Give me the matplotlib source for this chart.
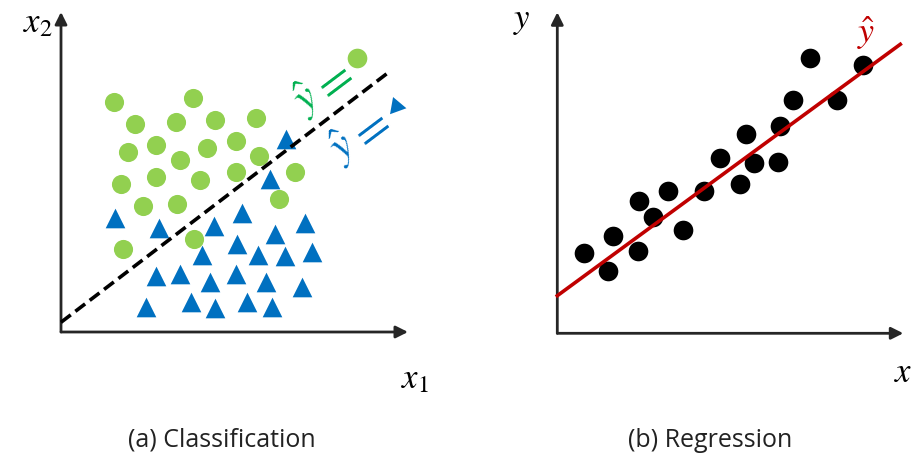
"""
Classification vs. regression sketch: two hand-drawn style panels.
"""

import matplotlib
matplotlib.use("Agg")
import matplotlib.pyplot as plt

plt.rcParams["mathtext.fontset"] = "stix"

# ── colours ──────────────────────────────────────────────────────────────────
C = {
    "green":     "#92d050",
    "green_txt": "#00b050",
    "blue":      "#0070c0",
    "red":       "#c00000",
    "axis":      "#262626",
    "text":      "#222222",
}

# ── data: (a) classification ─────────────────────────────────────────────────
green_x = [5.3, 13.2, 7.4, 11.5, 15.4, 19.5, 6.7, 9.5, 14.6, 17.5, 11.9,
           19.8, 6.0, 9.5, 13.9, 17.5, 23.4, 8.2, 11.6, 21.8, 6.2, 13.3]
green_y = [23.0, 23.4, 20.8, 21.0, 21.2, 21.4, 18.0, 18.7, 18.4, 19.1, 17.2,
           17.6, 14.8, 15.5, 15.2, 16.0, 16.0, 12.6, 12.8, 13.3, 8.3, 9.3]

blue_x = [22.5, 20.9, 5.4, 9.8, 15.3, 18.1, 24.4, 21.4, 17.6, 14.1, 19.7, 22.4,
          25.1, 9.5, 11.9, 14.9, 17.5, 20.5, 24.1, 8.5, 13.0, 15.4, 18.6, 21.1]
blue_y = [19.3, 15.3, 11.4, 10.4, 10.6, 11.9, 10.9, 9.8, 8.8, 7.7, 7.7, 7.6,
          8.0, 5.6, 5.8, 5.0, 5.8, 5.0, 4.5, 2.5, 3.0, 2.4, 3.0, 2.5]

boundary_x = [0.0, 32.8]
boundary_y = [0.97, 26.0]

# ── data: (b) regression ─────────────────────────────────────────────────────
reg_x = [2.7, 5.1, 5.6, 8.1, 8.2, 9.6, 11.1, 12.6, 14.7, 16.3, 18.3, 18.9,
         19.7, 22.1, 22.3, 23.6, 25.3, 28.0, 30.6]
reg_y = [8.0, 6.2, 9.7, 8.2, 13.2, 11.6, 14.2, 10.3, 14.2, 17.5, 14.9, 19.9,
         17.0, 17.1, 20.7, 23.3, 27.5, 23.3, 26.8]

fit_x = [0.0, 34.3]
fit_y = [3.76, 28.9]

W, H = 914, 460


def panel(fig, ox, oy, left_px, right_px):
    """Axes where 1 data unit = 10 px and (0, 0) sits at pixel (ox, oy)."""
    ax = fig.add_axes([left_px / W, 0, (right_px - left_px) / W, 1])
    ax.set_xlim((left_px - ox) / 10, (right_px - ox) / 10)
    ax.set_ylim((oy - H) / 10, oy / 10)
    ax.axis("off")
    return ax


def axes_arrows(ax, xend, yend):
    for xy in [(xend, 0), (0, yend)]:
        ax.annotate("", xy=xy, xytext=(0, 0),
                    arrowprops=dict(arrowstyle="-|>", color=C["axis"], lw=2,
                                    mutation_scale=18, shrinkA=0, shrinkB=0))


def rotated(ax, x, y, s, color, size=30):
    ax.text(x, y, s, color=color, fontsize=size, rotation=37,
            ha="center", va="center")


fig = plt.figure(figsize=(W / 100, H / 100), dpi=100)
fig.patch.set_facecolor("white")

# ══════════════════════════════════════════════════════════════════════════════
#  (a) Classification
# ══════════════════════════════════════════════════════════════════════════════
ax = panel(fig, 61, 333, 0, 457)
axes_arrows(ax, 34.7, 32.0)

ax.scatter(green_x, green_y, s=190, color=C["green"], linewidths=0, zorder=3)
ax.scatter(blue_x, blue_y, s=200, marker="^", color=C["blue"],
           linewidths=0, zorder=3)
ax.plot(boundary_x, boundary_y, color="black", lw=2.6,
        dashes=(3.4, 1.6), zorder=4)

# legend-ish labels along the boundary
rotated(ax, 24.5, 23.3, r"$\hat{y}$", C["green_txt"])
rotated(ax, 27.0, 25.0, r"$=$", C["green_txt"], size=36)
ax.scatter([29.6], [27.4], s=200, color=C["green"], linewidths=0)
rotated(ax, 28.1, 18.5, r"$\hat{y}$", C["blue"])
rotated(ax, 30.7, 20.2, r"$=$", C["blue"], size=36)
ax.scatter([33.5], [22.6], s=210, marker=(3, 0, 20), color=C["blue"],
           linewidths=0)

ax.text(-2.3, 31.1, r"$x_2$", fontsize=25, color="black",
        ha="center", va="center")
ax.text(35.4, -4.5, r"$x_1$", fontsize=25, color="black",
        ha="center", va="center")
ax.text(16.1, -10.7, "(a) Classification", fontsize=18, color=C["text"],
        family="Open Sans", ha="center", va="center")

# ══════════════════════════════════════════════════════════════════════════════
#  (b) Regression
# ══════════════════════════════════════════════════════════════════════════════
ax = panel(fig, 557.3, 334.3, 457, 914)
axes_arrows(ax, 34.6, 32.1)

ax.plot(fit_x, fit_y, color=C["red"], lw=2.6, zorder=4)
ax.scatter(reg_x, reg_y, s=200, color="black", linewidths=0, zorder=3)

ax.text(30.9, 30.1, r"$\hat{y}$", fontsize=26, color=C["red"],
        ha="center", va="center")
ax.text(-3.5, 31.4, r"$y$", fontsize=25, color="black",
        ha="center", va="center")
ax.text(34.6, -3.8, r"$x$", fontsize=25, color="black",
        ha="center", va="center")
ax.text(15.3, -10.6, "(b) Regression", fontsize=18, color=C["text"],
        family="Open Sans", ha="center", va="center")

fig.savefig("out.png", dpi=100, facecolor="white")
plt.close(fig)
